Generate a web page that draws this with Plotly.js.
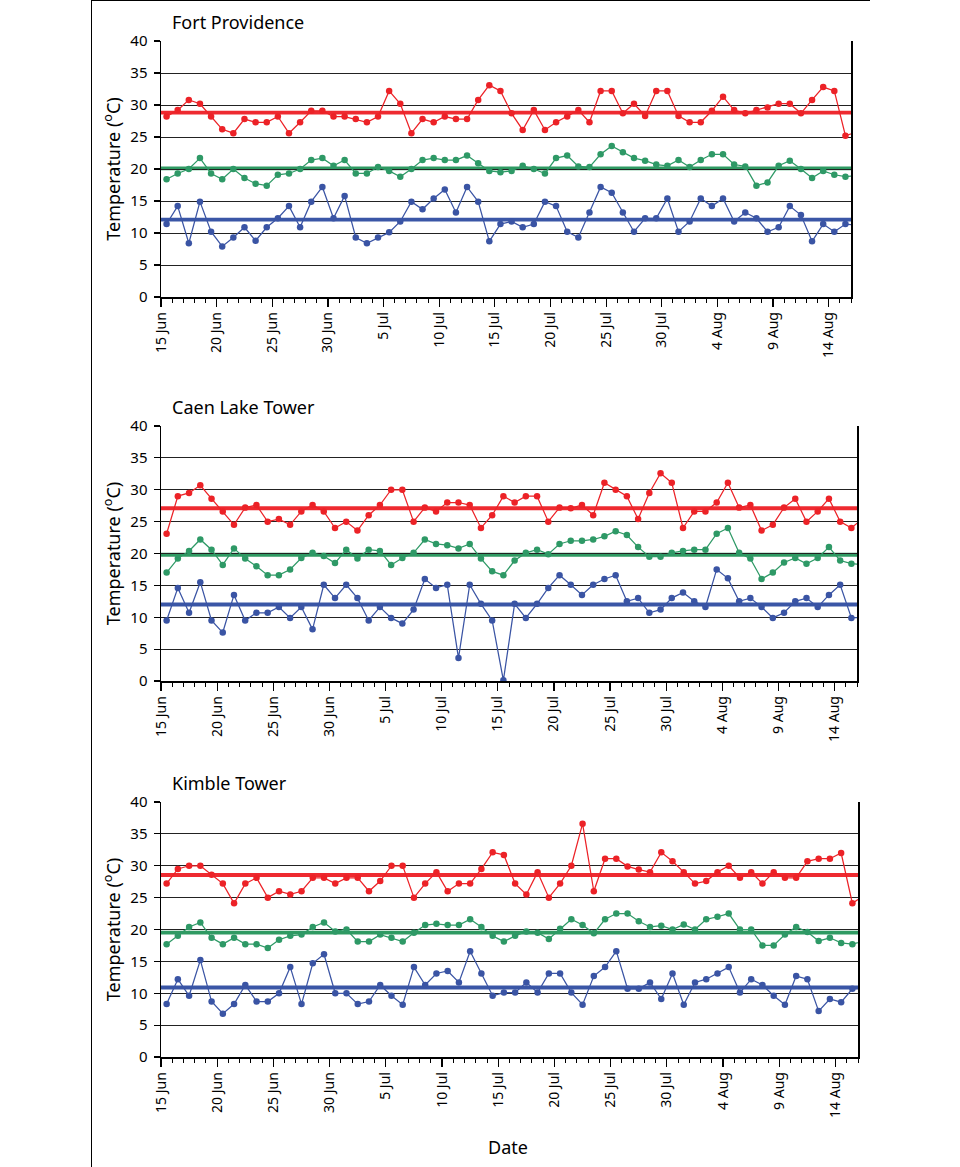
<!DOCTYPE html>
<html>
<head>
<meta charset="utf-8">
<script src="https://cdn.plot.ly/plotly-3.0.1.min.js"></script>
<style>
  html, body { margin: 0; padding: 0; background: #ffffff; }
  body { width: 960px; height: 1167px; overflow: hidden; position: relative; }
  #frame { position: absolute; left: 91px; top: 0; width: 779px; height: 1167px; z-index: 1;
           border-left: 1px solid #000; border-top: 1px solid #000; box-sizing: border-box; }
  #chart { position: absolute; left: 0; top: 0; width: 960px; height: 1167px; z-index: 2; }
</style>
</head>
<body>
<div id="frame"></div>
<div id="chart"></div>
<script>
// ---------- data ----------
const startDate = '2000-06-15';
const nDays = 63;
const panelTitles = ['Fort Providence', 'Caen Lake Tower', 'Kimble Tower'];
const axisTitle = 'Temperature (<sup>o</sup>C)';
const xTitle = 'Date';

const fpRed = [28.2,29.2,30.8,30.2,28.2,26.2,25.6,27.8,27.3,27.3,
  28.2,25.6,27.3,29.1,29.1,28.2,28.2,27.8,27.3,28.2,
  32.2,30.2,25.6,27.8,27.3,28.2,27.8,27.8,30.8,33.1,
  32.2,28.7,26.1,29.2,26.1,27.3,28.2,29.2,27.3,32.2,
  32.2,28.7,30.2,28.3,32.2,32.2,28.3,27.3,27.3,29.1,
  31.3,29.2,28.7,29.2,29.6,30.2,30.2,28.7,30.8,32.8,
  32.2,25.2,25.8];
const fpGreen = [18.4,19.3,20.0,21.7,19.3,18.4,20.0,18.6,17.7,17.4,
  19.1,19.3,20.0,21.4,21.7,20.5,21.4,19.3,19.3,20.3,
  19.7,18.8,20.0,21.4,21.7,21.4,21.4,22.1,20.9,19.7,
  19.5,19.7,20.5,20.0,19.3,21.7,22.1,20.4,20.3,22.3,
  23.6,22.6,21.7,21.3,20.7,20.5,21.4,20.3,21.4,22.3,
  22.3,20.7,20.4,17.4,17.9,20.5,21.3,20.0,18.6,19.7,
  19.1,18.8,19.0];
const fpBlue = [11.4,14.2,8.4,14.9,10.2,7.9,9.3,10.9,8.8,10.9,
  12.3,14.2,10.9,14.9,17.2,12.3,15.8,9.3,8.4,9.3,
  10.1,11.8,14.9,13.7,15.4,16.8,13.2,17.2,14.9,8.7,
  11.4,11.8,10.9,11.4,14.9,14.2,10.2,9.3,13.2,17.2,
  16.3,13.2,10.2,12.3,12.3,15.4,10.2,11.8,15.4,14.2,
  15.4,11.8,13.2,12.3,10.2,10.9,14.2,12.8,8.7,11.4,
  10.2,11.4,11.2];

const clRed = [23.1,29.0,29.5,30.7,28.6,26.6,24.5,27.2,27.6,25.0,
  25.4,24.5,26.6,27.6,26.6,24.0,25.0,23.6,26.0,27.6,
  30.0,30.0,25.0,27.2,26.6,28.0,28.0,27.6,24.0,26.0,
  29.0,28.0,29.0,29.0,25.0,27.2,27.1,27.6,26.0,31.1,
  30.0,29.0,25.4,29.5,32.6,31.1,24.0,26.6,26.6,28.0,
  31.1,27.2,27.6,23.6,24.5,27.2,28.6,25.0,26.6,28.6,
  25.0,24.0,25.5];
const clGreen = [17.0,19.2,20.4,22.2,20.6,18.2,20.8,19.2,18.0,16.6,
  16.6,17.5,19.3,20.1,19.6,18.5,20.6,19.2,20.6,20.4,
  18.2,19.3,20.1,22.2,21.5,21.3,20.8,21.5,19.2,17.2,
  16.6,18.9,20.1,20.6,19.9,21.5,22.0,22.0,22.2,22.7,
  23.5,22.9,21.0,19.5,19.5,20.1,20.4,20.6,20.6,23.1,
  24.0,20.1,19.2,16.0,17.0,18.6,19.3,18.4,19.3,21.0,
  18.9,18.4,18.3];
const clBlue = [9.5,14.6,10.7,15.5,9.5,7.6,13.5,9.5,10.7,10.7,
  11.6,9.9,11.6,8.1,15.1,13.0,15.1,13.0,9.5,11.6,
  9.9,9.0,11.2,16.0,14.6,15.1,3.6,15.1,12.1,9.5,
  0.1,12.1,9.9,12.1,14.6,16.6,15.1,13.5,15.1,16.0,
  16.6,12.5,13.0,10.7,11.2,13.0,13.9,12.5,11.6,17.5,
  16.1,12.5,13.0,11.6,9.9,10.7,12.5,13.0,11.6,13.5,
  15.1,9.9,10.0];

const ktRed = [27.2,29.5,30.0,30.0,28.6,27.2,24.1,27.2,28.1,25.0,
  26.0,25.5,26.0,28.1,28.1,27.2,28.1,28.1,26.0,27.6,
  30.0,30.0,25.0,27.2,29.0,26.0,27.2,27.2,29.5,32.1,
  31.7,27.2,25.5,29.0,25.0,27.2,30.0,36.6,26.0,31.1,
  31.1,29.9,29.4,29.0,32.1,30.7,29.0,27.2,27.6,29.0,
  30.0,28.1,29.0,27.2,29.0,28.1,28.1,30.7,31.1,31.1,
  32.0,24.1,25.3];
const ktGreen = [17.7,19.0,20.4,21.1,18.7,17.7,18.7,17.7,17.7,17.1,
  18.4,19.0,19.2,20.4,21.1,19.7,20.0,18.1,18.1,19.2,
  18.7,18.1,19.5,20.7,20.9,20.7,20.7,21.6,20.4,19.0,
  18.1,19.0,19.7,19.5,18.5,20.1,21.6,20.7,19.4,21.6,
  22.5,22.5,21.3,20.4,20.6,20.0,20.8,20.0,21.6,22.0,
  22.5,20.0,20.0,17.5,17.5,19.2,20.4,19.6,18.2,18.7,
  17.9,17.7,18.2];
const ktBlue = [8.3,12.2,9.6,15.2,8.7,6.8,8.3,11.3,8.7,8.7,
  10.0,14.1,8.3,14.7,16.1,10.0,10.0,8.3,8.7,11.3,
  9.6,8.2,14.1,11.3,13.1,13.5,11.7,16.6,13.1,9.6,
  10.1,10.1,11.7,10.1,13.1,13.1,10.1,8.2,12.7,14.1,
  16.6,10.7,10.7,11.7,9.1,13.1,8.2,11.7,12.2,13.1,
  14.1,10.1,12.2,11.3,9.6,8.2,12.7,12.2,7.2,9.1,
  8.6,10.7,10.8];

// mean lines (red, green, blue)
const fpMeans = [28.8, 20.1, 12.1];
const clMeans = [27.1, 19.8, 12.0];
const ktMeans = [28.55, 19.5, 10.9];

// ---------- build ----------
const dates = [];
{
  const d0 = new Date(startDate + 'T12:00:00Z');
  for (let i = 0; i < nDays; i++) {
    const d = new Date(d0.getTime() + i * 86400000);
    dates.push(d.toISOString().slice(0, 10) + ' 12:00');
  }
}
const colors = ['#ec2227', '#2e9966', '#3a54a4'];
const meanColors = ['#ee2a30', '#2f9a62', '#3a56a6'];
const panels = [
  {title: panelTitles[0], series: [fpRed, fpGreen, fpBlue], means: fpMeans},
  {title: panelTitles[1], series: [clRed, clGreen, clBlue], means: clMeans},
  {title: panelTitles[2], series: [ktRed, ktGreen, ktBlue], means: ktMeans}
];

const H = 1167, W = 960;
const yDom = [[297, 41], [681, 426], [1057, 802]];
const xDom = [[161, 851], [161, 857], [161, 858]];
const FONT = 'Noto Sans, Open Sans, sans-serif';

const traces = [];
const layout = {
  width: W, height: H,
  margin: {l: 0, r: 0, t: 0, b: 0},
  paper_bgcolor: 'rgba(0,0,0,0)',
  plot_bgcolor: 'rgba(0,0,0,0)',
  showlegend: false,
  font: {family: FONT, color: '#000', size: 13},
  shapes: [], annotations: []
};

panels.forEach((p, k) => {
  const sx = k === 0 ? '' : String(k + 1);
  p.series.forEach((s, j) => {
    traces.push({
      type: 'scatter', mode: 'lines+markers',
      x: dates, y: s,
      xaxis: 'x' + sx, yaxis: 'y' + sx,
      line: {color: colors[j], width: 1.25},
      marker: {color: colors[j], size: 6.5},
      cliponaxis: true, hoverinfo: 'skip'
    });
    layout.shapes.push({
      type: 'line', xref: 'x' + sx + ' domain', yref: 'y' + sx,
      x0: 0, x1: 1, y0: p.means[j], y1: p.means[j],
      line: {color: meanColors[j], width: 3.8}, layer: 'below'
    });
  });
  layout['xaxis' + sx] = {
    domain: [xDom[k][0] / W, xDom[k][1] / W],
    anchor: 'y' + sx,
    type: 'date',
    range: ['2000-06-15', '2000-08-16'],
    tick0: startDate, dtick: 5 * 86400000,
    tickformat: '%-d %b',
    tickangle: -90,
    ticks: 'outside', ticklen: 8, tickwidth: 1.2, tickcolor: '#000',
    minor: {ticks: 'outside', ticklen: 4, tickwidth: 1, tickcolor: '#000', dtick: 86400000, tick0: startDate, showgrid: false},
    showgrid: false, zeroline: false,
    showline: true, linecolor: '#000', linewidth: 1.5,
    tickfont: {family: FONT, size: 14, color: '#000'},
    fixedrange: true
  };
  layout['yaxis' + sx] = {
    domain: [1 - yDom[k][0] / H, 1 - yDom[k][1] / H],
    anchor: 'x' + sx,
    range: [0, 40], dtick: 5, tick0: 0,
    ticks: 'outside', ticklen: 6, tickwidth: 1.2, tickcolor: '#000',
    ticklabelstandoff: 3,
    showgrid: true, gridcolor: '#222', gridwidth: 1,
    zeroline: false,
    showline: true, linecolor: '#000', linewidth: 1.5, mirror: true,
    tickfont: {family: FONT, size: 15, color: '#000'},
    title: {text: axisTitle, font: {family: FONT, size: 18, color: '#000'}, standoff: 5},
    fixedrange: true
  };
  layout.annotations.push({
    text: p.title, xref: 'paper', yref: 'paper',
    x: 170 / W, y: 1 - (yDom[k][1] - 19) / H,
    xanchor: 'left', yanchor: 'middle', showarrow: false,
    font: {family: FONT, size: 18, color: '#000'}
  });
});
layout.annotations.push({
  text: xTitle, xref: 'paper', yref: 'paper',
  x: 508 / W, y: 1 - 1147 / H, xanchor: 'center', yanchor: 'middle',
  showarrow: false, font: {family: FONT, size: 18, color: '#000'}
});

Plotly.newPlot('chart', traces, layout, {staticPlot: true, displayModeBar: false});
</script>
</body>
</html>
